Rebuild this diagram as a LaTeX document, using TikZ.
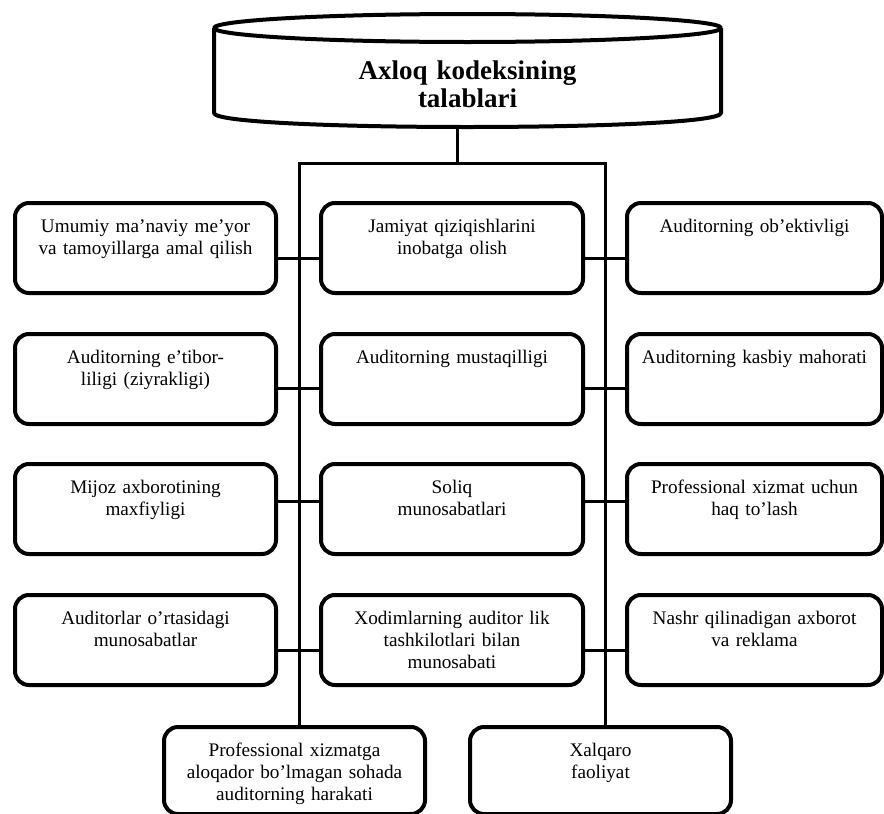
\documentclass[tikz,border=0pt]{standalone}
\usepackage{fontspec}
\setmainfont{Liberation Serif}
\newcommand\bodyfnt{\fontsize{19.2}{22.3}\selectfont}
\newcommand\titlefnt{\fontsize{27}{28}\selectfont\bfseries}
\begin{document}
\begin{tikzpicture}[x=1pt,y=-1pt,
  box/.style={draw, line width=4pt, rounded corners=14pt, minimum height=90pt, inner sep=0pt},
  txt/.style={anchor=base, align=center, text width=258pt, inner sep=0pt, font=\bodyfnt, yshift=-31pt},
  conn/.style={line width=3pt},
  cyl/.style={line width=4pt, line join=round}]
\useasboundingbox (0,0) rectangle (884,814);

% title cylinder
\draw[cyl] (467.5,28) ellipse [x radius=253.5, y radius=14];
\draw[cyl] (214,28) -- (214,113) .. controls (214,131.67) and (721,131.67) .. (721,113) -- (721,28);
\node[font=\titlefnt, align=center, text width=480pt, anchor=base, inner sep=0pt] (title) at (467.5,79) {Axloq kodeksining\\talablari};

% boxes
\foreach \r/\y in {1/248, 2/379, 3/509, 4/640}{
  \node[box, minimum width=261pt] (L\r) at (145.5,\y) {};
  \node[box, minimum width=262pt] (M\r) at (452,\y) {};
  \node[box, minimum width=255pt] (R\r) at (754.5,\y) {};
}
\node[box, minimum width=261pt, minimum height=87pt] (B1) at (294.5,770.5) {};
\node[box, minimum width=261pt, minimum height=87pt] (B2) at (600.5,770.5) {};

% texts
\node[txt] (tL1) at (L1.north) {Umumiy ma’naviy me’yor\\va tamoyillarga amal qilish};
\node[txt] (tM1) at (M1.north) {Jamiyat qiziqishlarini\\inobatga olish};
\node[txt] (tR1) at (R1.north) {Auditorning ob’ektivligi};
\node[txt] (tL2) at (L2.north) {Auditorning e’tibor-\\liligi (ziyrakligi)};
\node[txt] (tM2) at (M2.north) {Auditorning mustaqilligi};
\node[txt] (tR2) at (R2.north) {Auditorning kasbiy mahorati};
\node[txt] (tL3) at (L3.north) {Mijoz axborotining\\maxfiyligi};
\node[txt] (tM3) at (M3.north) {Soliq\\munosabatlari};
\node[txt] (tR3) at (R3.north) {Professional xizmat uchun\\haq to’lash};
\node[txt] (tL4) at (L4.north) {Auditorlar o’rtasidagi\\munosabatlar};
\node[txt] (tM4) at (M4.north) {Xodimlarning auditor lik\\tashkilotlari bilan\\munosabati};
\node[txt] (tR4) at (R4.north) {Nashr qilinadigan axborot\\va reklama};
\node[txt] (tB1) at (B1.north) {Professional xizmatga\\aloqador bo’lmagan sohada\\auditorning harakati};
\node[txt] (tB2) at (B2.north) {Xalqaro\\faoliyat};

% connectors
\coordinate (stemtop) at (457,126);
\coordinate (jC) at (457,163);
\coordinate (jL) at (299,163);
\coordinate (jR) at (605,163);
\draw[conn] (stemtop) -- (jC);
\draw[conn, line join=miter] (B1.north -| jL) -- (jL) -- (jR) -- (jR |- B2.north);
\foreach \r/\y in {1/258, 2/388, 3/501, 4/650}{
  \coordinate (y\r) at (0,\y);
  \draw[conn] (L\r.east |- y\r) -- (M\r.west |- y\r);
  \draw[conn] (M\r.east |- y\r) -- (R\r.west |- y\r);
}
\end{tikzpicture}
\end{document}
